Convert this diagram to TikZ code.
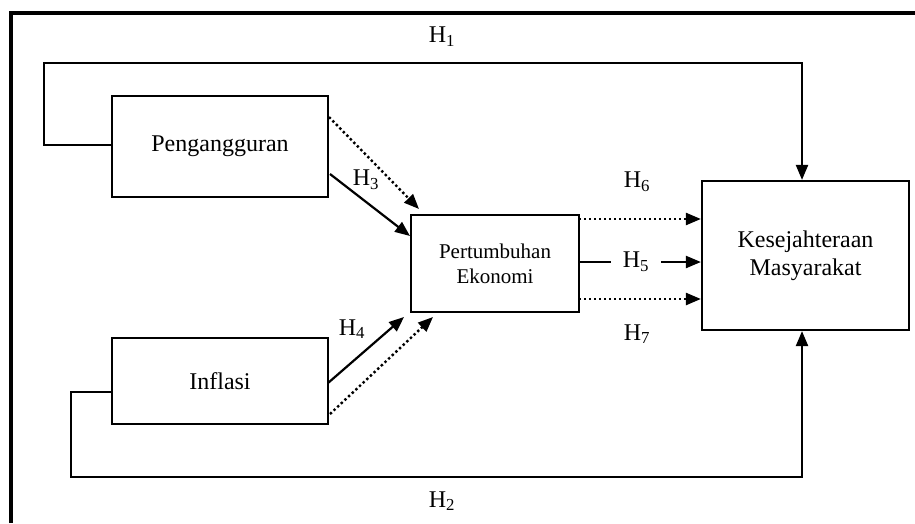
\documentclass[tikz,border=0pt]{standalone}
\usepackage{fontspec}
\setmainfont{Liberation Serif}
\usetikzlibrary{arrows.meta}
\begin{document}
\begin{tikzpicture}[x=1pt,y=-1pt,
  box/.style={draw,line width=2.2pt,inner sep=0pt},
  conn/.style={line width=2.2pt},
  tip/.style={-{Triangle[length=15pt,width=12pt]}},
  dots/.style={line width=2.4pt,dash pattern=on 2.4pt off 2.6pt},
  lab/.style={font=\fontsize{24}{26}\selectfont,inner sep=1pt}]
\useasboundingbox (0,0) rectangle (915,523);
% outer frame (left and top only)
\draw[line width=3.5pt] (11,523) -- (11,13) -- (915,13);
% boxes
\node[box,minimum width=216pt,minimum height=101pt,font=\fontsize{24}{26}\selectfont] (pg) at (220,146.5) {Pengangguran};
\node[box,minimum width=216pt,minimum height=86pt,font=\fontsize{24}{26}\selectfont] (inf) at (220,381) {Inflasi};
\node[box,minimum width=168pt,minimum height=97pt,align=center,font=\fontsize{21}{25}\selectfont] (pe) at (495,263.5) {Pertumbuhan\\Ekonomi};
\node[box,minimum width=207pt,minimum height=149pt,align=center,font=\fontsize{24}{28}\selectfont] (ks) at (805.5,255.5) {Kesejahteraan\\Masyarakat};
% H1 loop
\coordinate (a1) at (44,145);
\coordinate (a2) at (44,63);
\coordinate (a3) at (802,63);
\draw[conn,tip] (pg.west |- a1) -- (a1) -- (a2) -- (a3) -- (a3 |- ks.north);
\node[lab] (h1) at (442,37) {H\textsubscript{1}};
% H2 loop
\coordinate (b1) at (71,392);
\coordinate (b2) at (71,477);
\coordinate (b3) at (802,477);
\draw[conn,tip] (inf.west |- b1) -- (b1) -- (b2) -- (b3) -- (b3 |- ks.south);
\node[lab] (h2) at (442,501) {H\textsubscript{2}};
% Pengangguran -> Pertumbuhan
\coordinate (p1) at (329,117);
\coordinate (p2) at (419,209);
\coordinate (p3) at (330,174);
\coordinate (p4) at (410,236);
\draw[dots,tip] (p1) -- (p2);
\draw[conn,tip] (p3) -- (p4);
\node[lab] (h3) at (366,180) {H\textsubscript{3}};
% Inflasi -> Pertumbuhan
\coordinate (i1) at (328,383);
\coordinate (i2) at (404,317);
\coordinate (i3) at (330,414);
\coordinate (i4) at (433,317);
\draw[conn,tip] (i1) -- (i2);
\draw[dots,tip] (i3) -- (i4);
\node[lab] (h4) at (352,329) {H\textsubscript{4}};
% Pertumbuhan -> Kesejahteraan
\coordinate (e1) at (579,219);
\coordinate (e2) at (579,262);
\coordinate (e3) at (579,299);
\draw[dots,tip] (e1) -- (ks.west |- e1);
\draw[conn,tip] (e2) -- (ks.west |- e2);
\draw[dots,tip] (e3) -- (ks.west |- e3);
\node[lab] (h6) at (637,182) {H\textsubscript{6}};
\node[lab,fill=white,inner xsep=12pt,inner ysep=4pt] (h5) at (636,262) {H\textsubscript{5}};
\node[lab] (h7) at (637,334) {H\textsubscript{7}};
\end{tikzpicture}
\end{document}
